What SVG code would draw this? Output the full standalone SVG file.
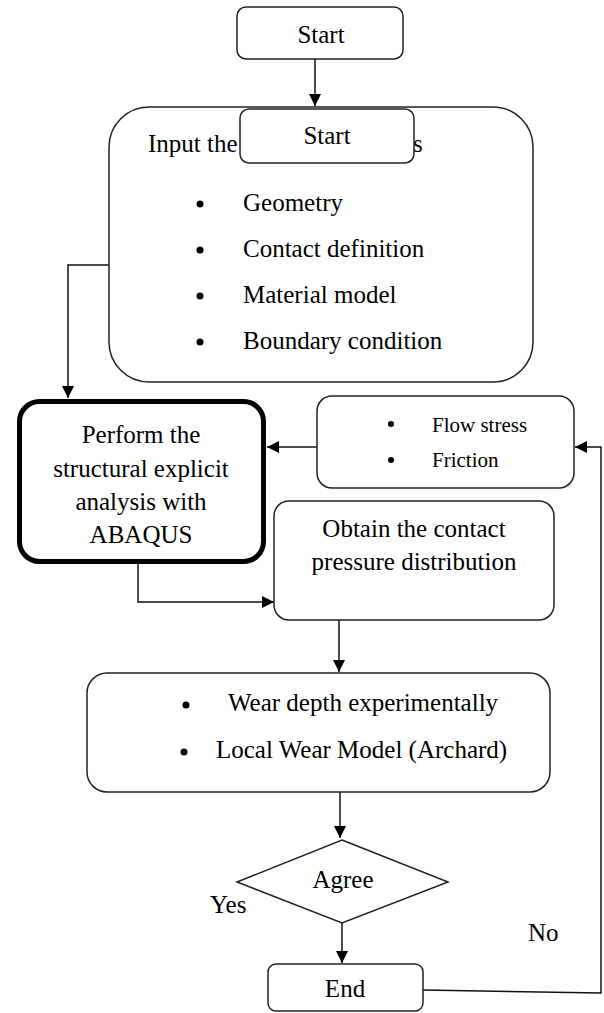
<svg xmlns="http://www.w3.org/2000/svg" width="604" height="1013" viewBox="0 0 604 1013">
<style>
.box{fill:#fff;stroke:#222;stroke-width:1.5}
.thick{fill:#fff;stroke:#000;stroke-width:5}
text{font-family:'Liberation Serif','Times New Roman',serif;font-size:25px;fill:#000}
.s{font-size:21px}
.c{text-anchor:middle}
.ln{fill:none;stroke:#111;stroke-width:1.5}
</style>
<defs>
<marker id="ah" viewBox="0 0 10 10" refX="10" refY="5" markerWidth="12" markerHeight="12" markerUnits="userSpaceOnUse" orient="auto">
<path d="M0,0 L10,5 L0,10 z" fill="#000"/>
</marker>
</defs>
<g id="connectors">
<path class="ln" d="M315,59 V106" marker-end="url(#ah)"/>
<path class="ln" d="M109,265 H68 V398" marker-end="url(#ah)"/>
<path class="ln" d="M317,447 H267" marker-end="url(#ah)"/>
<path class="ln" d="M138,564 V602 H274" marker-end="url(#ah)"/>
<path class="ln" d="M339,620 V672" marker-end="url(#ah)"/>
<path class="ln" d="M340,792 V838" marker-end="url(#ah)"/>
<path class="ln" d="M342,923 V963" marker-end="url(#ah)"/>
<path class="ln" d="M423,990 L601,993 V447 H575" marker-end="url(#ah)"/>
</g>
<g id="start">
<rect class="box" x="237" y="7" width="166" height="52" rx="9"/>
<text class="c" x="321" y="43">Start</text>
</g>
<g id="input">
<rect class="box" x="109" y="107" width="424" height="275" rx="40"/>
<text x="148" y="152">Input the</text>
<text x="413" y="152">s</text>
<circle cx="200" cy="204" r="3.5"/>
<text x="243" y="211">Geometry</text>
<circle cx="200" cy="250" r="3.5"/>
<text x="243" y="257">Contact definition</text>
<circle cx="200" cy="296" r="3.5"/>
<text x="243" y="303">Material model</text>
<circle cx="200" cy="342" r="3.5"/>
<text x="243" y="349">Boundary condition</text>
</g>
<g id="start2">
<rect class="box" x="240" y="109" width="174" height="54" rx="9"/>
<text class="c" x="327" y="144">Start</text>
</g>
<g id="perform">
<rect class="thick" x="19.5" y="401.5" width="244" height="160" rx="20"/>
<text class="c" x="141" y="443">Perform the</text>
<text class="c" x="141" y="477">structural explicit</text>
<text class="c" x="141" y="510">analysis with</text>
<text class="c" x="141" y="543">ABAQUS</text>
</g>
<g id="params">
<rect class="box" x="317" y="396" width="257" height="92" rx="15"/>
<circle cx="391" cy="424" r="3"/>
<text class="s" x="432" y="432">Flow stress</text>
<circle cx="391" cy="460" r="3"/>
<text class="s" x="432" y="467">Friction</text>
</g>
<g id="obtain">
<rect class="box" x="274" y="501" width="280" height="119" rx="15"/>
<text class="c" x="414" y="537">Obtain the contact</text>
<text class="c" x="414" y="570">pressure distribution</text>
</g>
<g id="wear">
<rect class="box" x="87" y="673" width="463" height="119" rx="20"/>
<circle cx="186" cy="705" r="3.5"/>
<text x="228" y="711">Wear depth experimentally</text>
<circle cx="184" cy="752" r="3.5"/>
<text x="216" y="758">Local Wear Model (Archard)</text>
</g>
<g id="agree">
<polygon class="box" points="342,840 448,882 342,923 237,882"/>
<text class="c" x="343" y="888">Agree</text>
</g>
<text x="210" y="913">Yes</text>
<text x="528" y="941">No</text>
<g id="end">
<rect class="box" x="268" y="964" width="155" height="47" rx="8"/>
<text class="c" x="345" y="997">End</text>
</g>
</svg>
